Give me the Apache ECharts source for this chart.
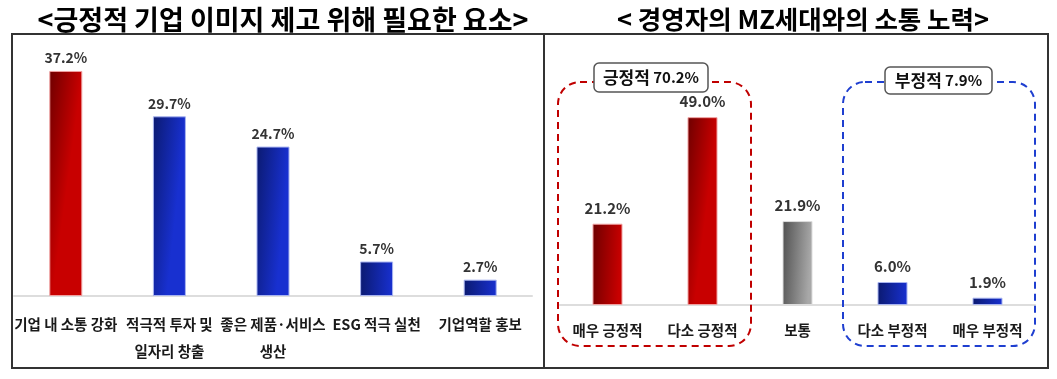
<!DOCTYPE html>
<html><head><meta charset="utf-8">
<script src="https://cdn.jsdelivr.net/npm/echarts@6/dist/echarts.min.js"></script>
<style>html,body{margin:0;padding:0;background:#fff}#c{width:1057px;height:379px}</style>
</head><body><div id="c"></div>
<script>
const leftTitle = '<긍정적 기업 이미지 제고 위해 필요한 요소>';
const rightTitle = '< 경영자의 MZ세대와의 소통 노력>';
const leftCats = ['기업 내 소통 강화', '적극적 투자 및\n일자리 창출', '좋은 제품·서비스\n생산', 'ESG 적극 실천', '기업역할 홍보'];
const leftVals = [37.2, 29.7, 24.7, 5.7, 2.7];
const leftTones = ['red', 'blue', 'blue', 'blue', 'blue'];
const rightCats = ['매우 긍정적', '다소 긍정적', '보통', '다소 부정적', '매우 부정적'];
const rightVals = [21.2, 49.0, 21.9, 6.0, 1.9];
const rightTones = ['red', 'red', 'gray', 'blue', 'blue'];
const groupNames = ['긍정적', '부정적'];
const groupTotals = ['70.2%', '7.9%'];

const FONT = '"Noto Sans CJK KR", "Noto Sans", sans-serif';
const TONES = {
  red: ['#6e0000', '#c80000', '#f0a0a0'],
  blue: ['#0b1a70', '#1830d0', '#a8b4f0'],
  gray: ['#505050', '#a8a8a8', '#dddddd']
};
function grad(t) {
  const s = TONES[t];
  return new echarts.graphic.LinearGradient(0, 0, 1, 0.02, [
    { offset: 0, color: s[0] }, { offset: 1, color: s[1] }
  ]);
}
const chart = echarts.init(document.getElementById('c'), null, { renderer: 'canvas' });
const labelCommon = { show: true, position: 'top', distance: 6, fontFamily: FONT, fontSize: 14, fontWeight: 'bold', color: '#333', formatter: p => p.value.toFixed(1) + '%' };
const axisLabelCommon = { fontFamily: FONT, fontSize: 14.5, fontWeight: 'bold', color: '#1a1a1a', lineHeight: 27, interval: 0 };
chart.setOption({
  animation: false,
  title: [
    { text: leftTitle, left: 278, top: 1, textAlign: 'center', textStyle: { fontFamily: FONT, fontSize: 27, fontWeight: 'bold', color: '#000' } },
    { text: rightTitle, left: 798, top: 2, textAlign: 'center', textStyle: { fontFamily: FONT, fontSize: 25.5, fontWeight: 'bold', color: '#000' } }
  ],
  grid: [
    { left: 14, width: 518, top: 54, bottom: 83 },
    { left: 560, width: 475, top: 75, bottom: 74 }
  ],
  xAxis: [
    { type: 'category', gridIndex: 0, data: leftCats, axisTick: { show: false }, axisLine: { lineStyle: { color: '#ddd', width: 2 } }, axisLabel: Object.assign({ margin: 15 }, axisLabelCommon) },
    { type: 'category', gridIndex: 1, data: rightCats, axisTick: { show: false }, axisLine: { lineStyle: { color: '#ddd', width: 2 } }, axisLabel: Object.assign({ margin: 12 }, axisLabelCommon) }
  ],
  yAxis: [
    { type: 'value', gridIndex: 0, min: 0, max: 40, show: false },
    { type: 'value', gridIndex: 1, min: 0, max: 60, show: false }
  ],
  series: [
    { type: 'bar', xAxisIndex: 0, yAxisIndex: 0, barWidth: 33, label: labelCommon,
      data: leftVals.map((v, i) => ({ value: v, itemStyle: { color: grad(leftTones[i]), borderColor: TONES[leftTones[i]][2], borderWidth: 1 } })) },
    { type: 'bar', xAxisIndex: 1, yAxisIndex: 1, barWidth: 30, label: Object.assign({}, labelCommon, { distance: 8, fontSize: 15 }),
      data: rightVals.map((v, i) => ({ value: v, itemStyle: { color: grad(rightTones[i]), borderColor: TONES[rightTones[i]][2], borderWidth: 1 } })) }
  ],
  graphic: [
    { type: 'rect', shape: { x: 12, y: 34, width: 1036, height: 334 }, style: { fill: 'none', stroke: '#333', lineWidth: 2 }, z: 1 },
    { type: 'line', shape: { x1: 544, y1: 34, x2: 544, y2: 368 }, style: { stroke: '#333', lineWidth: 2 }, z: 1 },
    { type: 'rect', shape: { x: 558, y: 82, width: 193, height: 264, r: 22 }, style: { fill: 'none', stroke: '#c00000', lineWidth: 2, lineDash: [7, 5] }, z: 5 },
    { type: 'rect', shape: { x: 843, y: 82, width: 192, height: 264, r: 22 }, style: { fill: 'none', stroke: '#1f3fd0', lineWidth: 2, lineDash: [7, 5] }, z: 5 },
    { type: 'rect', shape: { x: 594, y: 63, width: 114, height: 29, r: 5 }, style: { fill: '#fff', stroke: '#555', lineWidth: 1.5 }, z: 6 },
    { type: 'rect', shape: { x: 885, y: 67, width: 107, height: 27, r: 5 }, style: { fill: '#fff', stroke: '#555', lineWidth: 1.5 }, z: 6 },
    { type: 'text', x: 651, y: 77.5, z: 7, style: { text: '{a|' + groupNames[0] + '} {b|' + groupTotals[0] + '}', textAlign: 'center', textVerticalAlign: 'middle',
      rich: { a: { fontFamily: FONT, fontSize: 17, fontWeight: 'bold', fill: '#111' }, b: { fontFamily: FONT, fontSize: 15, fontWeight: 'bold', fill: '#111' } } } },
    { type: 'text', x: 938.5, y: 80.5, z: 7, style: { text: '{a|' + groupNames[1] + '} {b|' + groupTotals[1] + '}', textAlign: 'center', textVerticalAlign: 'middle',
      rich: { a: { fontFamily: FONT, fontSize: 17, fontWeight: 'bold', fill: '#111' }, b: { fontFamily: FONT, fontSize: 15, fontWeight: 'bold', fill: '#111' } } } }
  ]
});
</script></body></html>
